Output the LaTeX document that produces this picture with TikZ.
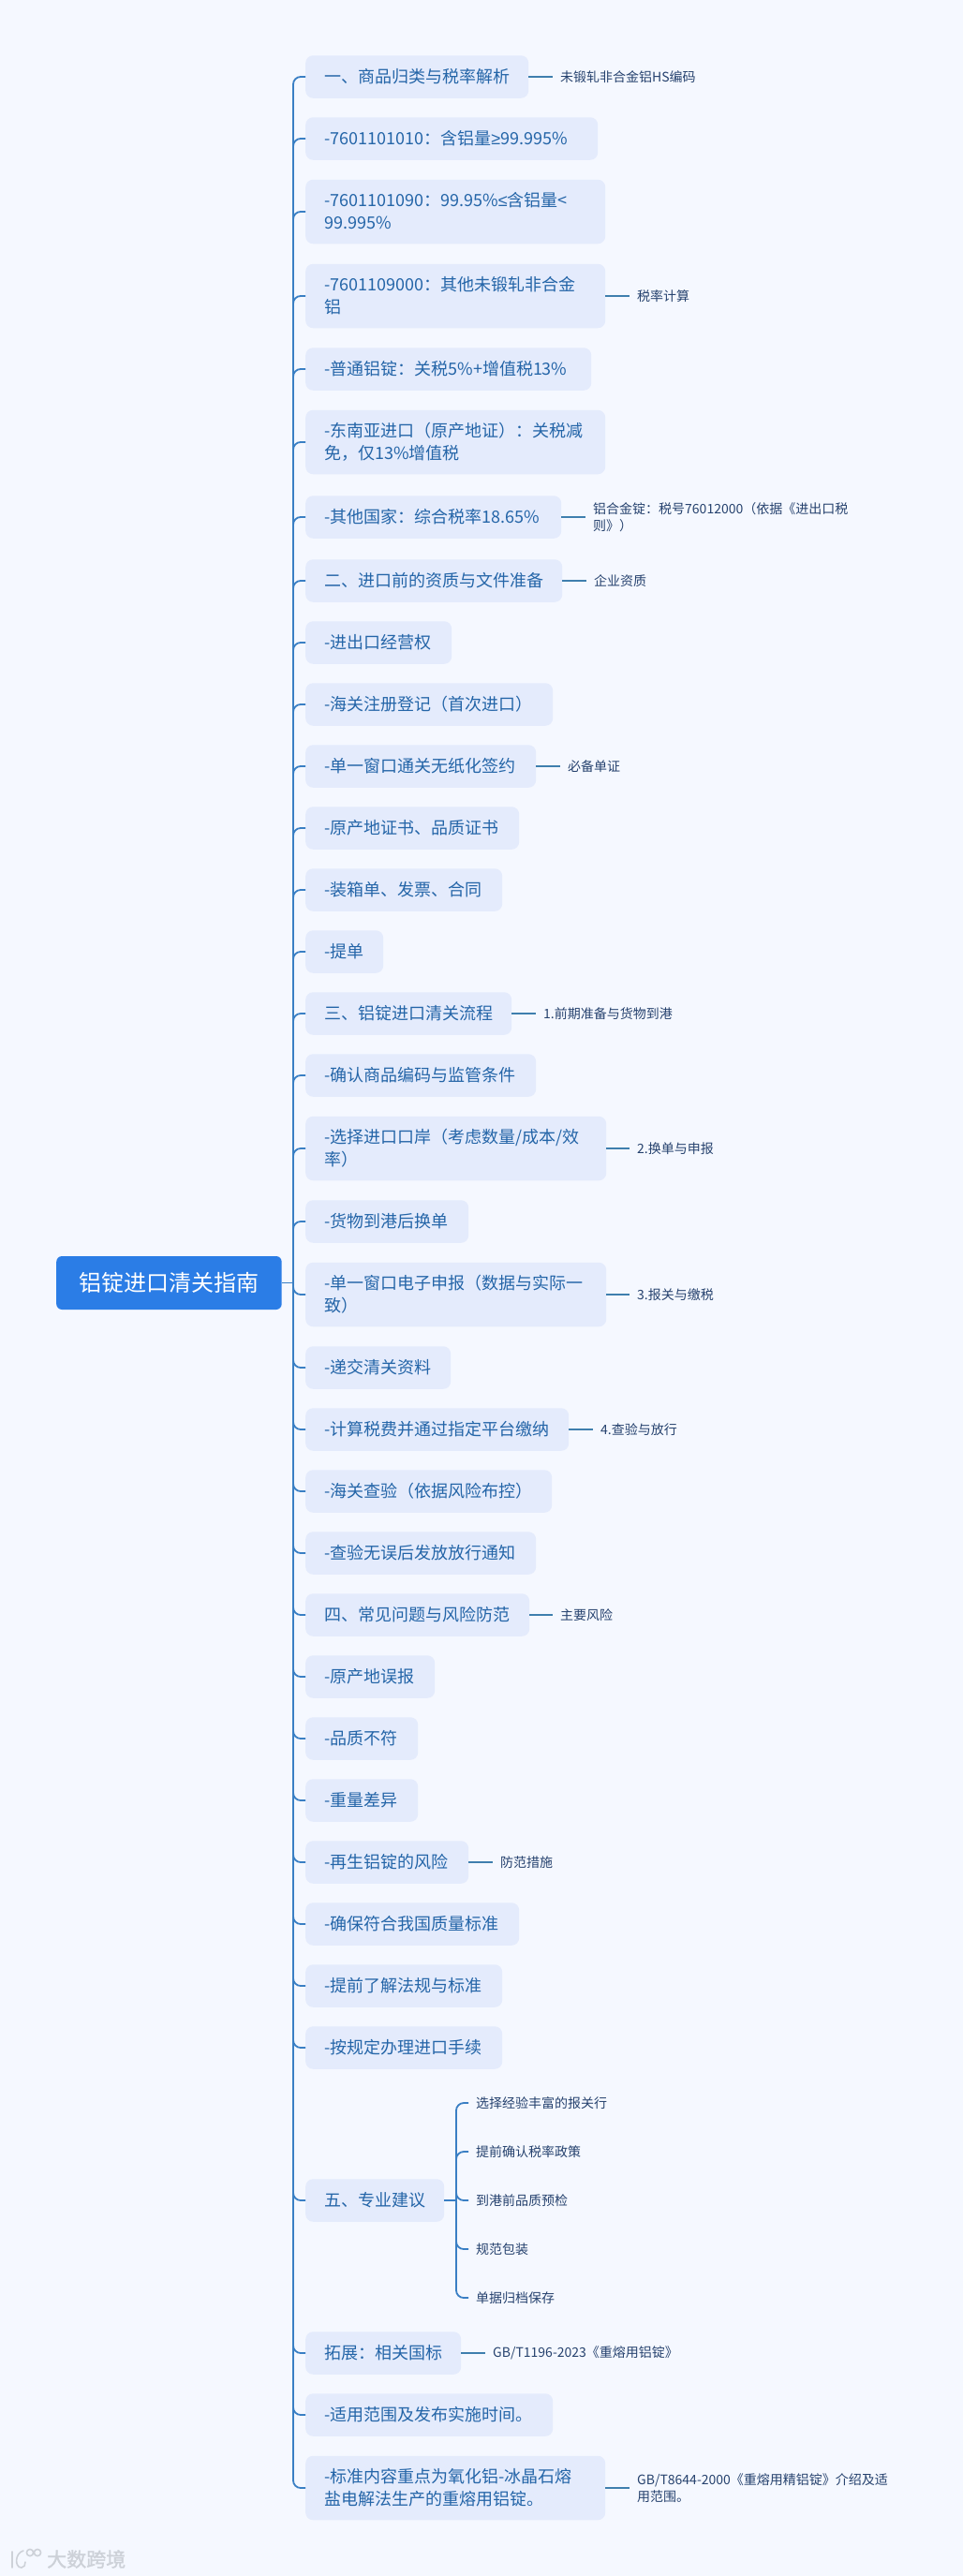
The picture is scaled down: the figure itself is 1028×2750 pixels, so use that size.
\documentclass[tikz,border=0pt]{standalone}
\usepackage{fontspec}
\setmainfont{Noto Sans CJK SC}
\newfontfamily\symfont{Liberation Sans}
\newfontfamily\wmfont[FakeBold=1.5]{Noto Sans CJK SC}
\newcommand{\gesym}{{\symfont ≥}}
\newcommand{\lesym}{{\symfont ≤}}
\newcommand{\itemstrut}{\vrule height 18.8pt depth 5.2pt width 0pt}
\definecolor{bgc}{HTML}{F5F8FF}
\definecolor{boxc}{HTML}{E4EBFC}
\definecolor{rootc}{HTML}{2B7DE6}
\definecolor{txtc}{HTML}{2465A8}
\definecolor{leafc}{HTML}{26426E}
\definecolor{trunkc}{HTML}{3A7FC4}
\definecolor{sidec}{HTML}{3F7FAE}
\definecolor{wmc}{HTML}{CDD1D8}
\tikzset{
  x=1pt,y=-1pt,
  rootbox/.style={fill=rootc,text=white,rounded corners=6pt,anchor=west,inner sep=0pt,minimum width=240.5pt,minimum height=57pt,font=\fontsize{24}{30}\selectfont},
  itembox/.style={fill=boxc,text=txtc,rounded corners=8pt,anchor=west,inner xsep=20pt,inner ysep=0pt,text width=#1,align=left,minimum height=45.5pt,font=\fontsize{18}{24}\selectfont,execute at begin node=\itemstrut,execute at end node=\itemstrut},
  leafbox/.style={text=leafc,anchor=west,inner xsep=8pt,inner ysep=0pt,align=left,font=\fontsize{14}{18}\selectfont},
  trunkline/.style={draw=trunkc,line width=1.8pt,rounded corners=8pt},
  sideline/.style={draw=sidec,line width=1.8pt},
  wmline/.style={draw=wmc,line width=1.6pt,line cap=round},
}
\begin{document}
\begin{tikzpicture}
\useasboundingbox[fill=bgc] (0,0) rectangle (1028,2750);
\node[rootbox] (root) at (60,1369.5) {\hspace*{24pt}铝锭进口清关指南\hspace*{24pt}};
\coordinate (trunk) at (313,1369.5);
\node[itembox=198pt] (n1) at (326,82) {一、商品归类与税率解析};
\node[itembox=272pt] (n2) at (326,148) {-7601101010：含铝量\gesym 99.995\%};
\node[itembox=280pt,minimum height=68.5pt] (n3) at (326,226) {-7601101090：99.95\%\lesym 含铝量<\\99.995\%};
\node[itembox=280pt,minimum height=68.5pt] (n4) at (326,316) {-7601109000：其他未锻轧非合金\\铝};
\node[itembox=265pt] (n5) at (326,394) {-普通铝锭：关税5\%+增值税13\%};
\node[itembox=280pt,minimum height=68.5pt] (n6) at (326,472) {-东南亚进口（原产地证）：关税减\\免，仅13\%增值税};
\node[itembox=233pt] (n7) at (326,552) {-其他国家：综合税率18.65\%};
\node[itembox=234pt] (n8) at (326,620) {二、进口前的资质与文件准备};
\node[itembox=116pt] (n9) at (326,686) {-进出口经营权};
\node[itembox=224pt] (n10) at (326,752) {-海关注册登记（首次进口）};
\node[itembox=206pt] (n11) at (326,818) {-单一窗口通关无纸化签约};
\node[itembox=188pt] (n12) at (326,884) {-原产地证书、品质证书};
\node[itembox=170pt] (n13) at (326,950) {-装箱单、发票、合同};
\node[itembox=43pt] (n14) at (326,1016) {-提单};
\node[itembox=180pt] (n15) at (326,1082) {三、铝锭进口清关流程};
\node[itembox=206pt] (n16) at (326,1148) {-确认商品编码与监管条件};
\node[itembox=281pt,minimum height=68.5pt] (n17) at (326,1226) {-选择进口口岸（考虑数量/成本/效\\率）};
\node[itembox=134pt] (n18) at (326,1304) {-货物到港后换单};
\node[itembox=281pt,minimum height=68.5pt] (n19) at (326,1382) {-单一窗口电子申报（数据与实际一\\致）};
\node[itembox=115pt] (n20) at (326,1460) {-递交清关资料};
\node[itembox=241pt] (n21) at (326,1526) {-计算税费并通过指定平台缴纳};
\node[itembox=223pt] (n22) at (326,1592) {-海关查验（依据风险布控）};
\node[itembox=206pt] (n23) at (326,1658) {-查验无误后发放放行通知};
\node[itembox=199pt] (n24) at (326,1724) {四、常见问题与风险防范};
\node[itembox=98pt] (n25) at (326,1790) {-原产地误报};
\node[itembox=80pt] (n26) at (326,1856) {-品质不符};
\node[itembox=80pt] (n27) at (326,1922) {-重量差异};
\node[itembox=134pt] (n28) at (326,1988) {-再生铝锭的风险};
\node[itembox=188pt] (n29) at (326,2054) {-确保符合我国质量标准};
\node[itembox=170pt] (n30) at (326,2120) {-提前了解法规与标准};
\node[itembox=170pt] (n31) at (326,2186) {-按规定办理进口手续};
\node[itembox=108pt] (n32) at (326,2349) {五、专业建议};
\node[itembox=126pt] (n33) at (326,2512) {拓展：相关国标};
\node[itembox=224pt] (n34) at (326,2578) {-适用范围及发布实施时间。};
\node[itembox=280pt,minimum height=68.5pt] (n35) at (326,2656) {-标准内容重点为氧化铝-冰晶石熔\\盐电解法生产的重熔用铝锭。};
% side leaves
\node[leafbox] (l1) at (590,82) {未锻轧非合金铝HS编码};
\node[leafbox] (l4) at (672,316) {税率计算};
\node[leafbox] (l7) at (625,552) {铝合金锭：税号76012000（依据《进出口税\\则》）};
\node[leafbox] (l8) at (626,620) {企业资质};
\node[leafbox] (l11) at (598,818) {必备单证};
\node[leafbox] (l15) at (572,1082) {1.前期准备与货物到港};
\node[leafbox] (l17) at (672,1226) {2.换单与申报};
\node[leafbox] (l19) at (672,1382) {3.报关与缴税};
\node[leafbox] (l21) at (633,1526) {4.查验与放行};
\node[leafbox] (l24) at (590,1724) {主要风险};
\node[leafbox] (l28) at (526,1988) {防范措施};
\node[leafbox] (l33) at (518,2512) {GB/T1196-2023《重熔用铝锭》};
\node[leafbox] (l35) at (672,2656) {GB/T8644-2000《重熔用精铝锭》介绍及适\\用范围。};
% advice leaves
\coordinate (t5) at (487,2349);
\node[leafbox] (a1) at (500,2245) {选择经验丰富的报关行};
\node[leafbox] (a2) at (500,2297) {提前确认税率政策};
\node[leafbox] (a3) at (500,2349) {到港前品质预检};
\node[leafbox] (a4) at (500,2401) {规范包装};
\node[leafbox] (a5) at (500,2453) {单据归档保存};
% connectors
\draw[trunkline] (root.east) -- (trunk);
\foreach \n in {n1,n2,n3,n4,n5,n6,n7,n8,n9,n10,n11,n12,n13,n14,n15,n16,n17,n18,n19,n20,n21,n22,n23,n24,n25,n26,n27,n28,n29,n30,n31,n32,n33,n34,n35}
  \draw[trunkline] (trunk) |- (\n.west);
\foreach \i in {1,4,7,8,11,15,17,19,21,24,28,33,35}
  \draw[sideline] (n\i.east) -- (l\i.west);
\draw[trunkline] (n32.east) -- (t5);
\foreach \i in {1,2,3,4,5}
  \draw[trunkline] (t5) |- (a\i.west);
% watermark
\draw[wmline] (13,2724) -- (13,2741);
\draw[wmline] (25,2723) .. controls (16,2725) and (15,2741) .. (23,2741) .. controls (26,2741) and (27,2738) .. (27,2735);
\draw[wmline] (32,2725) circle (3.6);
\draw[wmline] (40,2725) circle (3.6);
\node[text=wmc,anchor=west,inner sep=0pt,font=\wmfont\fontsize{21}{21}\selectfont] (wm) at (50,2732) {大数跨境};
\end{tikzpicture}
\end{document}
